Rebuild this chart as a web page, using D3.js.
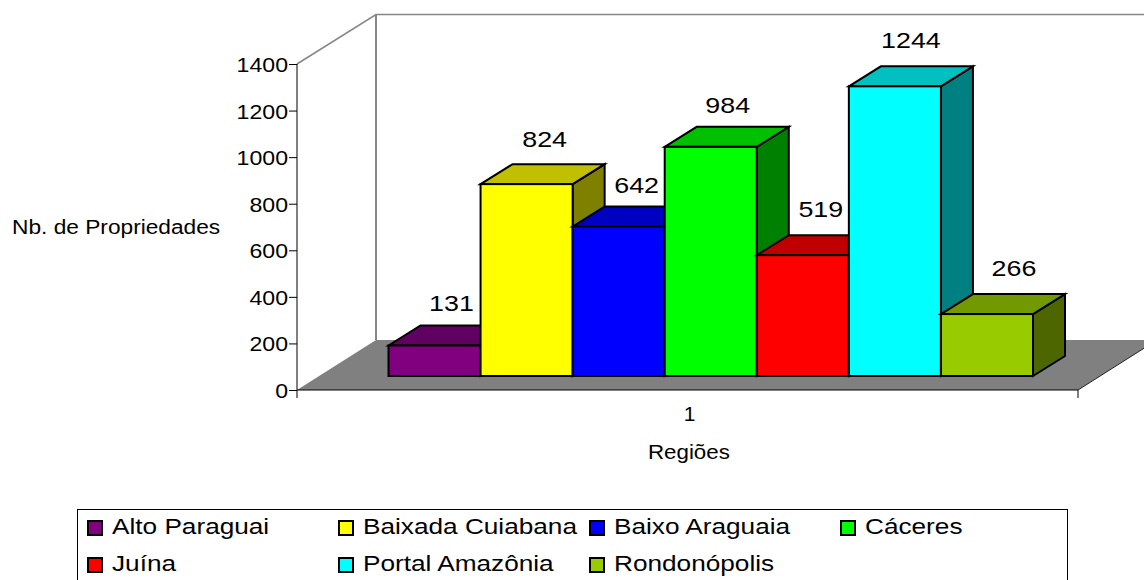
<!DOCTYPE html>
<html><head><meta charset="utf-8">
<script src="https://cdn.jsdelivr.net/npm/d3@7"></script>
<style>html,body{margin:0;padding:0;background:#fff}svg{display:block}text{font-family:"Liberation Sans",Arial,sans-serif;fill:#000}</style>
</head><body><svg id="c" width="1144" height="580"></svg>
<script>
const categories=["Alto Paraguai","Baixada Cuiabana","Baixo Araguaia","Cáceres","Juína","Portal Amazônia","Rondonópolis"];
const values=[131,824,642,984,519,1244,266];
const frontColors=["#800080","#ffff00","#0000ff","#00ff00","#ff0000","#00ffff","#99cc00"];
const topColors=["#600060","#c0c000","#0000c0","#00c000","#c00000","#00c0c0","#739900"];
const sideColors=["#400040","#808000","#000080","#008000","#800000","#008080","#4d6600"];
const yTicks=[0,200,400,600,800,1000,1200,1400];
const xTickLabel="1";
const yTitle="Nb. de Propriedades";
const xTitle="Regiões";

const svg=d3.select("#c");
const y=d3.scaleLinear().domain([0,1400]).range([390,64]);
const x=d3.scaleBand().domain(categories).range([388.5,1033]);
const ox=297,ex=1078,wdx=79,wdy=50,bdx=32,bdy=20,inset=14;
const pts=a=>a.map(p=>p.join(",")).join(" ");
// stretch text horizontally: the reference's type is wider than its height implies
const stretch=(sel,f)=>sel.each(function(){
  const w=this.getComputedTextLength();
  d3.select(this).attr("textLength",w*f).attr("lengthAdjust","spacingAndGlyphs");
});

// floor
svg.append("polygon").attr("points",pts([[ox,y(0)],[ex,y(0)],[ex+wdx,y(0)-wdy],[ox+wdx,y(0)-wdy]])).attr("fill","#808080");
svg.append("line").attr("x1",ex).attr("y1",y(0)).attr("x2",ex+wdx).attr("y2",y(0)-wdy).attr("stroke","#222").attr("stroke-width",1);
// walls
const gray="#868686";
svg.append("path").attr("fill","none").attr("stroke",gray).attr("stroke-width",1.5)
  .attr("d",`M${ox},${y(1400)}L${ox+wdx},${y(1400)-wdy+0.5}L1144,${y(1400)-wdy+0.5}`);
svg.append("line").attr("x1",ox+wdx).attr("x2",ox+wdx).attr("y1",y(1400)-wdy).attr("y2",y(0)-wdy).attr("stroke",gray).attr("stroke-width",2);

// bars
const labelNudge=[[0,3],[1,0],[1,3],[0,3],[1,-1],[-1,-1],[10,-1]];
const g=svg.append("g").attr("stroke","#000").attr("stroke-width",2).attr("stroke-linejoin","miter");
categories.forEach((c,i)=>{
  const x0=x(c),x1=x0+x.bandwidth(),base=y(0)-inset,top=base-(y(0)-y(values[i]));
  g.append("polygon").attr("fill",sideColors[i]).attr("points",pts([[x1,base],[x1+bdx,base-bdy],[x1+bdx,top-bdy],[x1,top]]));
  g.append("polygon").attr("fill",topColors[i]).attr("points",pts([[x0,top],[x0+bdx,top-bdy],[x1+bdx,top-bdy],[x1,top]]));
  g.append("rect").attr("fill",frontColors[i]).attr("x",x0).attr("y",top).attr("width",x.bandwidth()).attr("height",base-top);
  svg.append("text").attr("x",x0+x.bandwidth()/2+17+labelNudge[i][0]).attr("y",top-37+labelNudge[i][1]).attr("text-anchor","middle").attr("font-size",22)
    .text(values[i]).call(stretch,1.22);
});

// axes
const ay=svg.append("g").attr("transform",`translate(${ox},0)`).call(d3.axisLeft(y).tickValues(yTicks).tickSize(8).tickPadding(1).tickFormat(d3.format("d")));
ay.selectAll("path,line").attr("stroke","#000").attr("stroke-width",1);
ay.select(".domain").attr("d",`M0,${y(1400)}V${y(0)}`);
ay.selectAll("text").attr("font-size",21).attr("font-family",'"Liberation Sans"').attr("fill","#000").attr("dy","0.36em").call(stretch,1.1);
const xa=d3.scaleBand().domain([xTickLabel]).range([ox,ex]);
const ax=svg.append("g").attr("transform",`translate(0,${y(0)})`).call(d3.axisBottom(xa).tickSize(0).tickPadding(16));
ax.select(".domain").attr("stroke","#000").attr("d",`M${ox},8V0H${ex}V8`);
ax.selectAll("text").attr("font-size",21).attr("font-family",'"Liberation Sans"').attr("fill","#000").attr("dx",2);

svg.append("text").attr("x",12).attr("y",234).attr("font-size",20).text(yTitle).call(stretch,1.135);
svg.append("text").attr("x",648).attr("y",459).attr("font-size",20).text(xTitle).call(stretch,1.115);

// legend
svg.append("rect").attr("x",77.5).attr("y",509.5).attr("width",990).attr("height",90).attr("fill","#fff").attr("stroke","#000").attr("stroke-width",1);
const colX=d3.scaleLinear().domain([0,3]).range([87,840]);
categories.forEach((c,i)=>{
  const cx=colX(i%4),cy=i<4?528:565;
  svg.append("rect").attr("x",cx+1).attr("y",cy-7).attr("width",14).attr("height",14).attr("fill",frontColors[i]).attr("stroke","#000").attr("stroke-width",2);
  svg.append("text").attr("x",cx+25).attr("y",cy+6).attr("font-size",22).text(c).call(stretch,1.19);
});
</script></body></html>
